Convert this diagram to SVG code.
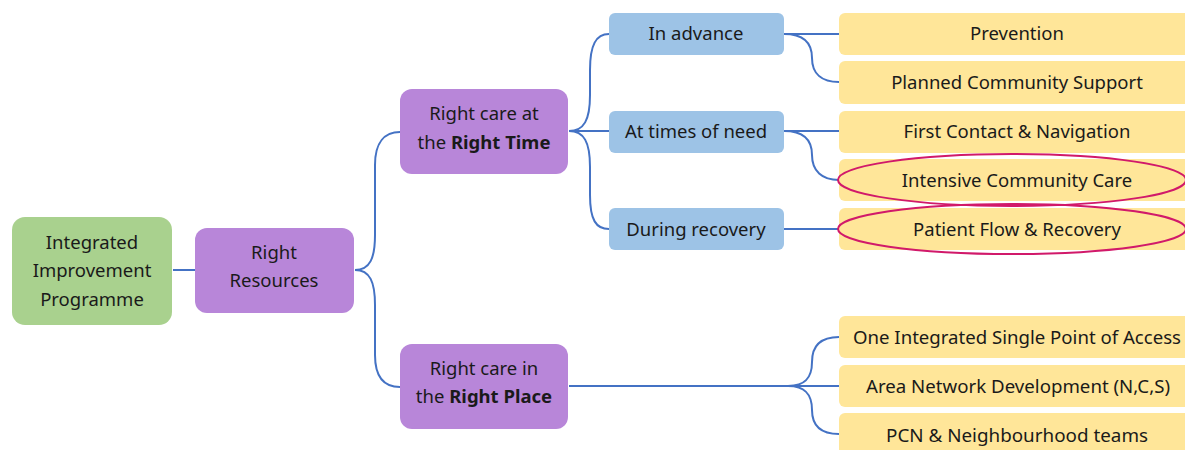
<svg xmlns="http://www.w3.org/2000/svg" width="1185" height="450" viewBox="0 0 1185 450">
<style>
.t{font-family:"Noto Sans","Open Sans",sans-serif;font-size:18.5px;fill:#1a1a1a;text-anchor:middle}
.b{font-weight:bold}
.c{fill:none;stroke:#4472c4;stroke-width:2}
.g{fill:#a9d18e}
.p{fill:#b886d9}
.bl{fill:#9dc3e6}
.y{fill:#ffe699}
.e{fill:none;stroke:#d1196a;stroke-width:2}
</style>
<rect width="1185" height="450" fill="#fff"/>
<g id="connectors">
<path class="c" d="M173,270 H195"/>
<path class="c" d="M355,270 C370,270 375,258 375,235 L375,165 C375,142 385,132 400,132"/>
<path class="c" d="M355,270 C370,270 375,282 375,305 L375,355 C375,378 385,387 400,387"/>
<path class="c" d="M569,131 C584,131 590,120 590,95 L590,70 C590,45 596,34 609,34"/>
<path class="c" d="M569,131 H609"/>
<path class="c" d="M569,131 C584,131 590,142 590,167 L590,195 C590,220 596,229 609,229"/>
<path class="c" d="M784,34 H839"/>
<path class="c" d="M784,34 C802,34 812,42 812,58 C812,74 822,82 839,82"/>
<path class="c" d="M784,131 H839"/>
<path class="c" d="M784,131 C802,131 812,139 812,155 C812,171 822,180 839,180"/>
<path class="c" d="M784,229 H839"/>
<path class="c" d="M569,386 H839"/>
<path class="c" d="M788,386 C805,386 812,378 812,362 C812,345 822,337 839,337"/>
<path class="c" d="M788,386 C805,386 812,394 812,410 C812,427 822,434 839,434"/>
</g>
<g id="root"><rect class="g" x="12" y="217" width="160" height="108" rx="13"/>
<text class="t" x="92" y="249">Integrated</text><text class="t" x="92" y="277">Improvement</text><text class="t" x="92" y="306">Programme</text></g>
<g id="right-resources"><rect class="p" x="195" y="228" width="159" height="85" rx="12"/>
<text class="t" x="274" y="259">Right</text><text class="t" x="274" y="287">Resources</text></g>
<g id="right-time"><rect class="p" x="400" y="89" width="168" height="85" rx="12"/>
<text class="t" x="484" y="120">Right care at</text><text class="t" x="484" y="149">the <tspan class="b">Right Time</tspan></text></g>
<g id="right-place"><rect class="p" x="400" y="344" width="168" height="85" rx="12"/>
<text class="t" x="484" y="375">Right care in</text><text class="t" x="484" y="403">the <tspan class="b">Right Place</tspan></text></g>
<g id="in-advance"><rect class="bl" x="609" y="13" width="175" height="42" rx="6"/><text class="t" x="696" y="40">In advance</text></g>
<g id="times-of-need"><rect class="bl" x="609" y="111" width="175" height="42" rx="6"/><text class="t" x="696" y="138">At times of need</text></g>
<g id="during-recovery"><rect class="bl" x="609" y="208" width="175" height="42" rx="6"/><text class="t" x="696" y="236">During recovery</text></g>
<g id="prevention"><rect class="y" x="839" y="13" width="360" height="42" rx="6"/><text class="t" x="1017" y="40">Prevention</text></g>
<g id="planned"><rect class="y" x="839" y="61" width="360" height="43" rx="6"/><text class="t" x="1017" y="89">Planned Community Support</text></g>
<g id="first-contact"><rect class="y" x="839" y="111" width="360" height="42" rx="6"/><text class="t" x="1017" y="138">First Contact &amp; Navigation</text></g>
<g id="intensive"><rect class="y" x="839" y="159" width="360" height="42" rx="6"/><text class="t" x="1017" y="187">Intensive Community Care</text>
<ellipse class="e" cx="1012" cy="180" rx="174" ry="26"/></g>
<g id="patient-flow"><rect class="y" x="839" y="208" width="360" height="42" rx="6"/><text class="t" x="1017" y="236">Patient Flow &amp; Recovery</text>
<ellipse class="e" cx="1012" cy="229" rx="174" ry="25"/></g>
<g id="spoa"><rect class="y" x="839" y="316" width="360" height="42" rx="6"/><text class="t" x="1017" y="344" textLength="328" lengthAdjust="spacingAndGlyphs">One Integrated Single Point of Access</text></g>
<g id="area-network"><rect class="y" x="839" y="365" width="360" height="42" rx="6"/><text class="t" x="1018" y="393" textLength="304" lengthAdjust="spacingAndGlyphs">Area Network Development (N,C,S)</text></g>
<g id="pcn"><rect class="y" x="839" y="413" width="360" height="42" rx="6"/><text class="t" x="1017" y="442" textLength="262" lengthAdjust="spacingAndGlyphs">PCN &amp; Neighbourhood teams</text></g>
</svg>
